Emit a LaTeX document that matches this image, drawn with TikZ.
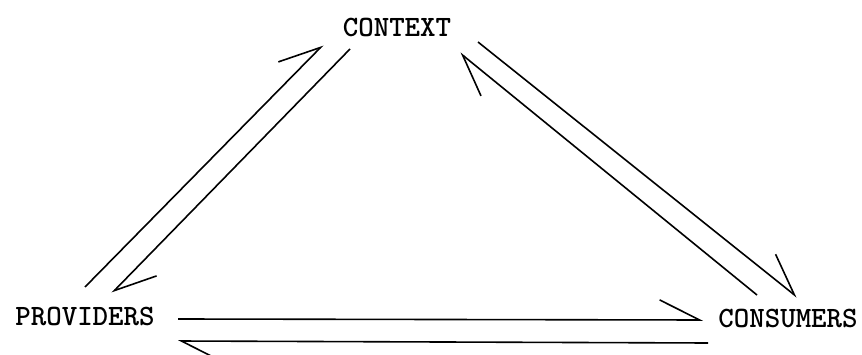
\documentclass[tikz,border=0pt]{standalone}
\usetikzlibrary{arrows.meta}
\begin{document}
\begin{tikzpicture}[x=1pt,y=-1pt,
    lbl/.style={font=\ttfamily\bfseries\fontsize{29.5}{32}\selectfont, inner sep=0pt},
    flow/.style={line width=1.6pt, -{Straight Barb[harpoon, length=40pt, width=40pt, line width=1.6pt]}}]
  \useasboundingbox (0,0) rectangle (862,355);

  % the three parties
  \node[lbl] (ctx)  at (397,27)  {CONTEXT};
  \node[lbl] (prov) at (85,316)  {PROVIDERS};
  \node[lbl] (cons) at (788,318) {CONSUMERS};

  % end points of the paired channels
  \coordinate (pc0) at (85,287);   \coordinate (pc1) at (323,45);
  \coordinate (cp0) at (350,49);   \coordinate (cp1) at (112,293);
  \coordinate (ck0) at (478,42);   \coordinate (ck1) at (797,297);
  \coordinate (kc0) at (757,295);  \coordinate (kc1) at (460,53);
  \coordinate (pk0) at (178,319);  \coordinate (pk1) at (703,320);
  \coordinate (kp0) at (708,343);  \coordinate (kp1) at (178,341);

  % providers <-> context
  \draw[flow] (pc0) -- (pc1);
  \draw[flow] (cp0) -- (cp1);
  % context <-> consumers
  \draw[flow] (ck0) -- (ck1);
  \draw[flow] (kc0) -- (kc1);
  % providers <-> consumers
  \draw[flow] (pk0) -- (pk1);
  \draw[flow] (kp0) -- (kp1);
\end{tikzpicture}
\end{document}
